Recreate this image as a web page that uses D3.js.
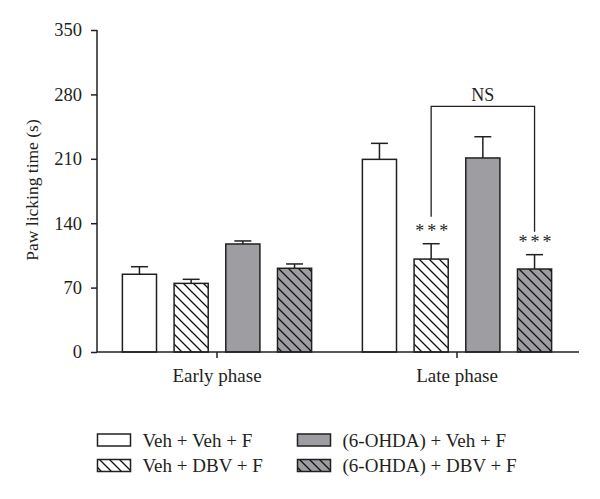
<!DOCTYPE html>
<html><head><meta charset="utf-8">
<script src="https://cdn.jsdelivr.net/npm/d3@7"></script>
<style>body{margin:0;background:#fff}svg{display:block}text{font-family:"Liberation Serif","DejaVu Serif",serif;fill:#231f20}</style>
</head><body><svg id="c" width="600" height="499"></svg>
<script>
const phases = ["Early phase", "Late phase"];
const series = ["Veh + Veh + F", "Veh + DBV + F", "(6-OHDA) + Veh + F", "(6-OHDA) + DBV + F"];
const earlyMeans = [84.5, 74.6, 117.4, 91];
const earlyErrors = [8.2, 4.4, 3.3, 4.7];
const lateMeans = [209.4, 101, 210.9, 90.2];
const lateErrors = [17.4, 16.7, 23.1, 15.6];
const yTicks = [0, 70, 140, 210, 280, 350];
const sigLabels = ["", "***", "", "***"];

const svg = d3.select("#c");
const defs = svg.append("defs");
function hatch(id, bg){
  const p = defs.append("pattern").attr("id", id).attr("patternUnits","userSpaceOnUse")
    .attr("width", 10).attr("height", 10);
  p.append("rect").attr("width",10).attr("height",10).attr("fill",bg);
  p.append("path").attr("d","M-5,5 L5,15 M0,0 L10,10 M5,-5 L15,5").attr("stroke","#111").attr("stroke-width",1.3);
}
hatch("h1","#fff"); hatch("h2","#9e9ea2");
const fills = ["#fff","url(#h1)","#9e9ea2","url(#h2)"];

const y = d3.scaleLinear().domain([0,350]).range([352,30]);
const x = d3.scaleBand().domain(phases).range([97,577]);
const xi = d3.scaleBand().domain(series).range([-103.4,103.4]).paddingInner(0.34).paddingOuter(0.17);

const data = [];
phases.forEach((ph,pi)=>{
  const m = pi===0?earlyMeans:lateMeans, e = pi===0?earlyErrors:lateErrors;
  series.forEach((s,si)=>data.push({ph, s, si, v:m[si], e:e[si], sig: pi===1?sigLabels[si]:""}));
});

const cx = d => x(d.ph)+x.bandwidth()/2+xi(d.s)+xi.bandwidth()/2;

// error bars
const eb = svg.append("g").attr("stroke","#231f20").attr("stroke-width",1.5);
data.forEach(d=>{
  eb.append("line").attr("x1",cx(d)).attr("x2",cx(d)).attr("y1",y(d.v)).attr("y2",y(d.v+d.e));
  eb.append("line").attr("x1",cx(d)-8.5).attr("x2",cx(d)+8.5).attr("y1",y(d.v+d.e)).attr("y2",y(d.v+d.e));
});
svg.append("g").selectAll("rect").data(data).join("rect")
  .attr("x",d=>cx(d)-xi.bandwidth()/2).attr("width",xi.bandwidth())
  .attr("y",d=>y(d.v)).attr("height",d=>y(0)-y(d.v))
  .attr("fill",d=>fills[d.si]).attr("stroke","#231f20").attr("stroke-width",1.5);

// significance
svg.append("g").selectAll("text").data(data.filter(d=>d.sig)).join("text")
  .attr("x",d=>cx(d)+2).attr("y",d=>y(d.v+d.e)-7).attr("text-anchor","middle")
  .attr("font-size",18).attr("letter-spacing",3).text(d=>d.sig);

// NS bracket
const lateData = data.filter(d=>d.ph==="Late phase");
const b1 = lateData[1], b3 = lateData[3];
const topV = 267;
svg.append("path").attr("fill","none").attr("stroke","#231f20").attr("stroke-width",1.3)
  .attr("d",`M${cx(b1)},${y(b1.v+b1.e)-27} V${y(topV)} H${cx(b3)} V${y(b3.v+b3.e)-23}`);
svg.append("text").attr("x",(cx(b1)+cx(b3))/2).attr("y",y(topV)-5).attr("text-anchor","middle")
  .attr("font-size",18).text("NS");

// axes
const ya = svg.append("g").attr("transform","translate(97,0)")
  .call(d3.axisLeft(y).tickValues(yTicks).tickSize(6).tickPadding(9));
ya.selectAll("text").attr("font-size",18.5).attr("font-family","Liberation Serif").attr("fill","#231f20");
ya.selectAll("line,path").attr("stroke","#231f20").attr("stroke-width",1.5);
ya.select(".domain").attr("d","M0,30V352");

const xa = svg.append("g").attr("transform","translate(0,352)")
  .call(d3.axisBottom(x).tickSize(6).tickPadding(11));
xa.selectAll("text").attr("font-size",19).attr("font-family","Liberation Serif").attr("fill","#231f20");
xa.selectAll("line,path").attr("stroke","#231f20").attr("stroke-width",1.5);
xa.select(".domain").attr("d","M97,0H579");

svg.append("text").attr("transform","translate(38,190) rotate(-90)").attr("text-anchor","middle")
  .attr("font-size",17.5).text("Paw licking time (s)");

// legend
const lg = svg.append("g");
series.forEach((s,i)=>{
  const c = i<2?0:1, r = i%2;
  const gx = c===0?97.5:297.5, gy = 434+r*25.5;
  lg.append("rect").attr("x",gx).attr("y",gy).attr("width",33).attr("height",12)
    .attr("fill",fills[i]).attr("stroke","#231f20").attr("stroke-width",1.5);
  lg.append("text").attr("x",gx+45).attr("y",gy+12.5).attr("font-size",19).text(s);
});
</script></body></html>
